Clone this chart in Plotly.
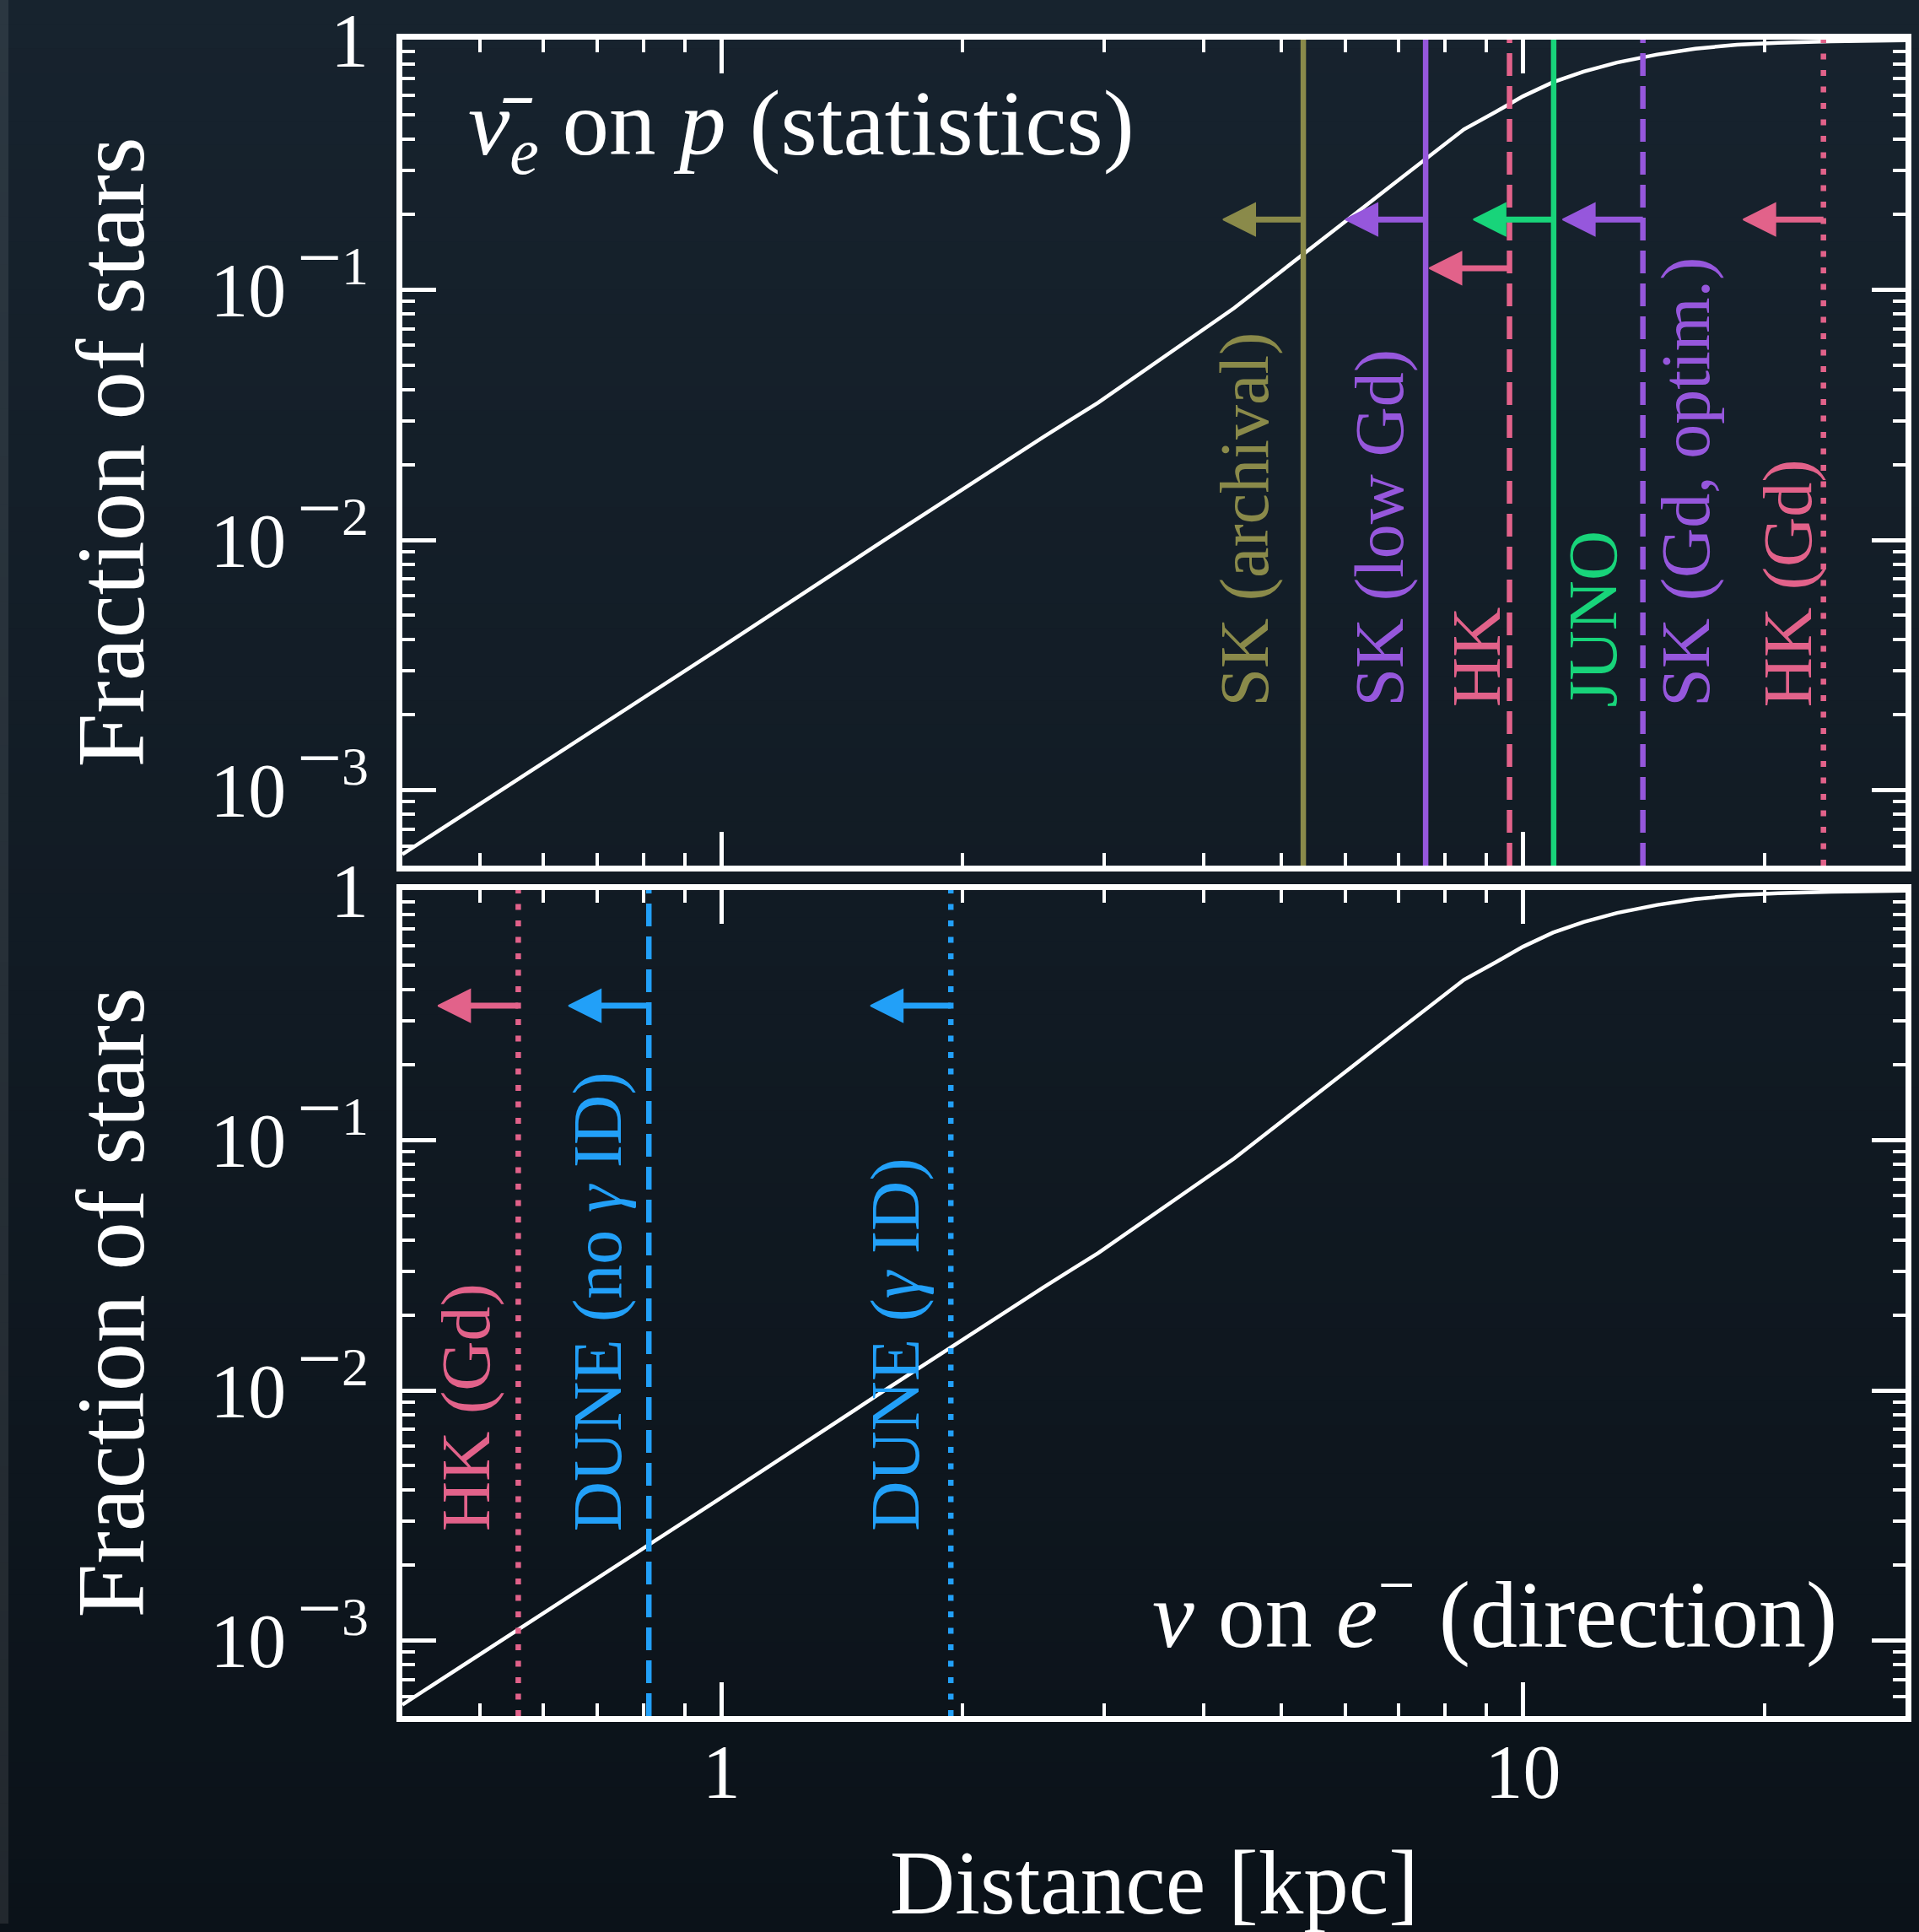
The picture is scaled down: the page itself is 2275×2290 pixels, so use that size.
import numpy as np
import plotly.graph_objects as go

# ---------------- data ----------------
distance_kpc = [0.4, 0.63, 1.0, 1.59, 2.52, 2.95, 3.43, 3.84, 4.36, 5.0, 5.54, 5.97,
                6.84, 7.55, 8.44, 9.25, 10.0, 10.9, 11.9, 13.1, 14.7, 16.4, 18.5,
                20.8, 24.2, 30.0]
fraction_of_stars = [5.55e-4, 1.42e-3, 3.73e-3, 9.9e-3, 0.0258, 0.0354, 0.0497,
                     0.0638, 0.0845, 0.119, 0.153, 0.185, 0.26, 0.331, 0.438, 0.515,
                     0.594, 0.676, 0.745, 0.81, 0.872, 0.92, 0.955, 0.972, 0.985,
                     0.995]

# top panel: anti-nu_e on p (statistics)
ibd_names = ["SK (archival)", "SK (low Gd)", "HK", "JUNO", "SK (Gd, optim.)", "HK (Gd)"]
ibd_reach_kpc = [5.32, 7.56, 9.62, 10.92, 14.11, 23.7]
ibd_arrow_frac = [0.191, 0.191, 0.122, 0.191, 0.191, 0.191]

# bottom panel: nu on e- (direction)
es_names = ["HK (Gd)", "DUNE (no <i>γ</i> ID)", "DUNE (<i>γ</i> ID)"]
es_reach_kpc = [0.558, 0.812, 1.933]
es_arrow_frac = [0.345, 0.345, 0.345]

y_tick_vals = [1e-3, 1e-2, 1e-1, 1]
y_tick_exp = ["3", "2", "1", None]
x_tick_vals = [1, 10]
x_tick_text = ["1", "10"]

# ---------------- styles ----------------
OLIVE = "#8a8a4a"
PURPLE = "#9657dc"
PINK = "#e2628a"
GREEN = "#18d47a"
BLUE = "#22a0f8"
ibd_colors = [OLIVE, PURPLE, PINK, GREEN, PURPLE, PINK]
ibd_dash = ["solid", "solid", "27px,12px", "solid", "27px,12px", "7px,12.5px"]
ibd_label_dx = [-23, -8, 8, 94, 98, 5]
es_colors = [PINK, BLUE, BLUE]
es_dash = ["7px,12.5px", "27px,12px", "7px,12.5px"]
es_label_dx = [-15, -13, -19]

FONT = "Liberation Serif"
W, H = 2275, 2290
L, R, T, B = 477, 16, 47, 256
PW, PH = W - L - R, H - T - B
top_dom = [(H - B - 1026) / PH, 1.0]
bot_dom = [0.0, (H - B - 1055) / PH]
YMIN, YMAX = 5e-4, 1.0
XMIN, XMAX = 0.4, 30.0
ARROW_DEC = 0.1  # arrow length in decades

y_tick_text = ["1" if e is None else
               ("10<sup>\u2009<span style='font-size:94px'>−</span>"
                "<span style='font-size:64px'>%s</span></sup>" % e)
               for e in y_tick_exp]

fig = go.Figure()

# background gradient (bands) + left strip
N = 80
c_top = np.array([23, 35, 46])
c_bot = np.array([11, 18, 25])
shapes = []
for i in range(N):
    p0 = H * i / N
    p1 = H * (i + 1) / N + 1
    c = c_top + (c_bot - c_top) * (i + 0.5) / N
    shapes.append(dict(type="rect", xref="paper", yref="paper",
                       x0=-L / PW, x1=(W - L) / PW,
                       y0=(H - B - p1) / PH, y1=(H - B - p0) / PH,
                       fillcolor="rgb(%d,%d,%d)" % tuple(c.round()), line_width=0, layer="below"))
s_top = np.array([43, 55, 65])
s_bot = np.array([34, 40, 46])
for i in range(N):
    p0 = 2280 * i / N
    p1 = 2280 * (i + 1) / N + 1
    c = s_top + (s_bot - s_top) * (i + 0.5) / N
    shapes.append(dict(type="rect", xref="paper", yref="paper",
                       x0=-L / PW, x1=(10 - L) / PW,
                       y0=(H - B - min(p1, 2280)) / PH, y1=(H - B - p0) / PH,
                       fillcolor="rgb(%d,%d,%d)" % tuple(c.round()), line_width=0, layer="below"))

panels = [
    ("x", "y", ibd_names, ibd_reach_kpc, ibd_arrow_frac, ibd_colors, ibd_dash),
    ("x2", "y2", es_names, es_reach_kpc, es_arrow_frac, es_colors, es_dash),
]
for xa, ya, names, reach, afrac, cols, dashes in panels:
    fig.add_trace(go.Scatter(x=distance_kpc, y=fraction_of_stars, mode="lines",
                             line=dict(color="white", width=4.5), xaxis=xa, yaxis=ya,
                             showlegend=False, hoverinfo="skip"))
    for n, d, f, c, ds in zip(names, reach, afrac, cols, dashes):
        fig.add_trace(go.Scatter(x=[d, d], y=[YMIN, YMAX], mode="lines",
                                 line=dict(color=c, width=6.5, dash=ds),
                                 xaxis=xa, yaxis=ya, showlegend=False, hoverinfo="skip"))
        tip = d * 10 ** (-ARROW_DEC)
        fig.add_trace(go.Scatter(x=[d, d * 10 ** (-0.075)], y=[f, f], mode="lines",
                                 line=dict(color=c, width=7),
                                 xaxis=xa, yaxis=ya, showlegend=False, hoverinfo="skip"))
        fig.add_trace(go.Scatter(x=[tip], y=[f], mode="markers",
                                 marker=dict(symbol="arrow-left", size=38, color=c,
                                             line=dict(color=c, width=2)),
                                 xaxis=xa, yaxis=ya, showlegend=False, hoverinfo="skip"))

annotations = []
# detector labels
for xa, ya, names, reach, cols, dxs, ysh in [
        ("x", "y", ibd_names, ibd_reach_kpc, ibd_colors, ibd_label_dx, 186),
        ("x2", "y2", es_names, es_reach_kpc, es_colors, es_label_dx, 217)]:
    for n, d, c, dx in zip(names, reach, cols, dxs):
        annotations.append(dict(text=n, x=np.log10(d), xref=xa, y=0, yref=ya + " domain",
                                xanchor="right", yanchor="bottom", xshift=dx, yshift=ysh,
                                textangle=-90, showarrow=False,
                                font=dict(family=FONT, size=82, color=c)))

# panel titles
annotations.append(dict(text="<i>ν̄</i><sub><i>e</i></sub> on <i>p</i> (statistics)",
                        x=0, xref="x domain", y=1, yref="y domain", xanchor="left",
                        yanchor="middle", xshift=76, yshift=-106, showarrow=False,
                        font=dict(family=FONT, size=111, color="white")))
annotations.append(dict(text="<i>ν</i> on <i>e</i><sup>−</sup> (direction)",
                        x=1, xref="x2 domain", y=0, yref="y2 domain", xanchor="right",
                        yanchor="middle", xshift=-79, yshift=129, showarrow=False,
                        font=dict(family=FONT, size=112, color="white")))
# axis titles
for ya in ["y", "y2"]:
    annotations.append(dict(text="Fraction of stars", x=0, xref="x domain", y=0.5,
                            yref=ya + " domain", xanchor="center", yanchor="middle",
                            xshift=131 - L, textangle=-90, showarrow=False,
                            font=dict(family=FONT, size=115, color="white")))
annotations.append(dict(text="Distance [kpc]", x=0.5, xref="x2 domain", y=0,
                        yref="y2 domain", xanchor="center", yanchor="middle",
                        yshift=-(2232 - 2034), showarrow=False,
                        font=dict(family=FONT, size=107, color="white")))

x_minor = [v * 10 ** e for e in (-1, 0, 1) for v in range(2, 10) if XMIN < v * 10 ** e <= XMAX]
y_minor = [v * 10 ** e for e in (-4, -3, -2, -1) for v in range(2, 10) if YMIN <= v * 10 ** e < YMAX]

axis_common = dict(type="log", showline=True, linecolor="white", linewidth=7,
                   mirror="allticks", ticks="inside", ticklen=40, tickwidth=5,
                   tickcolor="white", showgrid=False, zeroline=False, automargin=False,
                   ticklabeloverflow="allow",
                   tickfont=dict(family=FONT, size=90, color="white"),
                   minor=dict(tickmode="array", ticks="inside", ticklen=15,
                              tickwidth=4, tickcolor="white", showgrid=False))

xcommon = dict(axis_common, range=[np.log10(XMIN), np.log10(XMAX)],
               tickmode="array", tickvals=x_tick_vals, ticktext=x_tick_text,
               ticklabelstandoff=-18)
xcommon["minor"] = dict(axis_common["minor"], tickvals=x_minor)
ycommon = dict(axis_common, range=[np.log10(YMIN), np.log10(YMAX)],
               tickmode="array", tickvals=y_tick_vals, ticktext=y_tick_text,
               ticklabelstandoff=15)
ycommon["minor"] = dict(axis_common["minor"], tickvals=y_minor)

fig.update_layout(
    width=W, height=H, margin=dict(l=L, r=R, t=T, b=B, autoexpand=False),
    paper_bgcolor="rgb(17,27,36)", plot_bgcolor="rgba(0,0,0,0)",
    xaxis=dict(xcommon, domain=[0, 1], anchor="y", showticklabels=False),
    yaxis=dict(ycommon, domain=top_dom, anchor="x"),
    xaxis2=dict(xcommon, domain=[0, 1], anchor="y2", matches="x"),
    yaxis2=dict(ycommon, domain=bot_dom, anchor="x2"),
    shapes=shapes, annotations=annotations, showlegend=False,
    font=dict(family=FONT, color="white"),
)

fig.write_html("out.html", config={"displayModeBar": False},
               post_script="document.body.style.margin='0';document.body.style.background='rgb(12,19,26)';")
